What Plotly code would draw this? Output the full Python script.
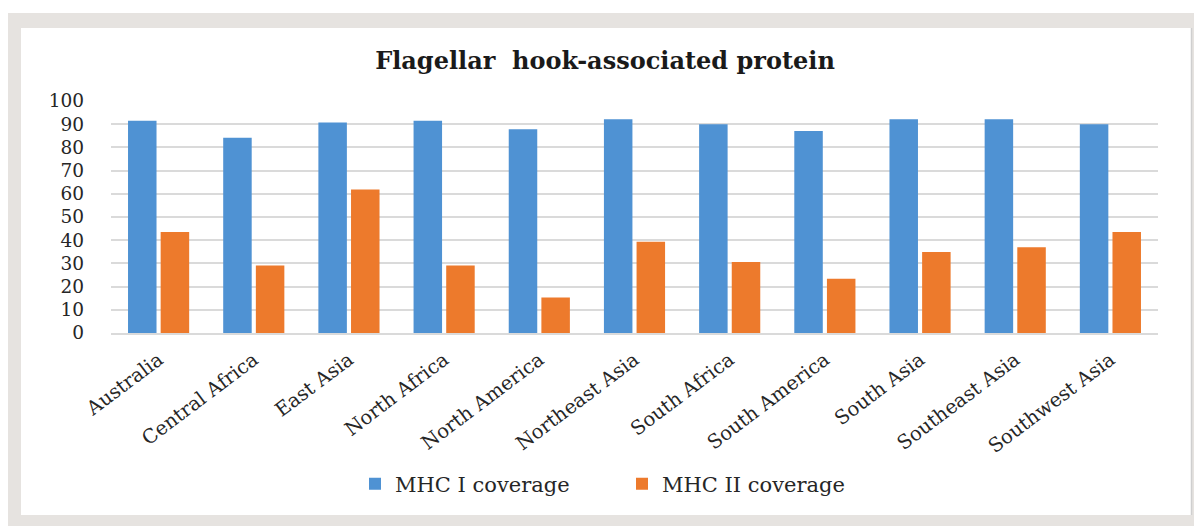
import plotly.graph_objects as go

regions = ["Australia", "Central Africa", "East Asia", "North Africa", "North America",
           "Northeast Asia", "South Africa", "South America", "South Asia",
           "Southeast Asia", "Southwest Asia"]
mhc1_coverage = [91.5, 84.2, 90.7, 91.5, 87.8, 92.1, 90.0, 87.1, 92.1, 92.1, 90.0]
mhc2_coverage = [43.5, 29.1, 61.8, 29.1, 15.3, 39.3, 30.6, 23.4, 34.9, 37.0, 43.5]
y_ticks = list(range(0, 101, 10))

W, H = 1196, 526
L, R, T, B = 111, 38, 101, 193
pw, ph = W - L - R, H - T - B


def px(x):
    return (x - L) / pw


def py(y):
    return (H - B - y) / ph


FONT = "DejaVu Serif"
TXT = "#262626"
GRID = "#dadada"
FRAME = "#e6e3e0"

fig = go.Figure()
fig.add_bar(name="MHC I coverage", x=regions, y=mhc1_coverage,
            marker=dict(color="#4f92d3", line=dict(width=0)))
fig.add_bar(name="MHC II coverage", x=regions, y=mhc2_coverage,
            marker=dict(color="#ed7a2c", line=dict(width=0)))

# grey card frame around the white chart panel
fig.add_shape(type="rect", xref="paper", yref="paper", layer="below",
              x0=px(8), x1=px(1194), y0=py(526), y1=py(13),
              fillcolor=FRAME, line=dict(width=0))
fig.add_shape(type="rect", xref="paper", yref="paper", layer="below",
              x0=px(21), x1=px(1191), y0=py(515), y1=py(28),
              fillcolor="white", line=dict(width=0))
fig.add_shape(type="line", xref="paper", yref="paper", layer="below",
              x0=px(1191.5), x1=px(1191.5), y0=py(515), y1=py(28),
              line=dict(color="#cfcfcf", width=1.5))

fig.update_layout(
    width=W, height=H,
    margin=dict(l=L, r=R, t=T, b=B, pad=0, autoexpand=False),
    paper_bgcolor="white", plot_bgcolor="rgba(0,0,0,0)",
    barmode="group", bargap=0.314, bargroupgap=0.127,
    font=dict(family=FONT, color=TXT),
    title=dict(text="<b>Flagellar  hook-associated protein</b>",
               font=dict(family=FONT, size=24, color="#1a1a1a"),
               xref="container", x=605 / W, xanchor="center",
               yref="container", y=1 - 61 / H, yanchor="middle"),
    legend=dict(orientation="h", xref="container", x=622 / W, xanchor="center",
                yref="container", y=1 - 484 / H, yanchor="middle",
                font=dict(family=FONT, size=21, color=TXT),
                bgcolor="rgba(0,0,0,0)", itemwidth=30, tracegroupgap=0,
                entrywidth=222),
    showlegend=True,
)
fig.update_xaxes(type="category", showgrid=False, ticks="", tickangle=-37,
                 tickfont=dict(family=FONT, size=19.5, color=TXT),
                 showline=True, linecolor=GRID, linewidth=1.5,
                 ticklabelstandoff=6, automargin=False)
fig.update_yaxes(range=[0, 100], tickvals=y_ticks, showgrid=True,
                 gridcolor=GRID, gridwidth=1.5, zeroline=False, showline=False,
                 tickfont=dict(family=FONT, size=18.5, color=TXT),
                 ticklabelstandoff=26, automargin=False)

fig.write_html("out.html")
